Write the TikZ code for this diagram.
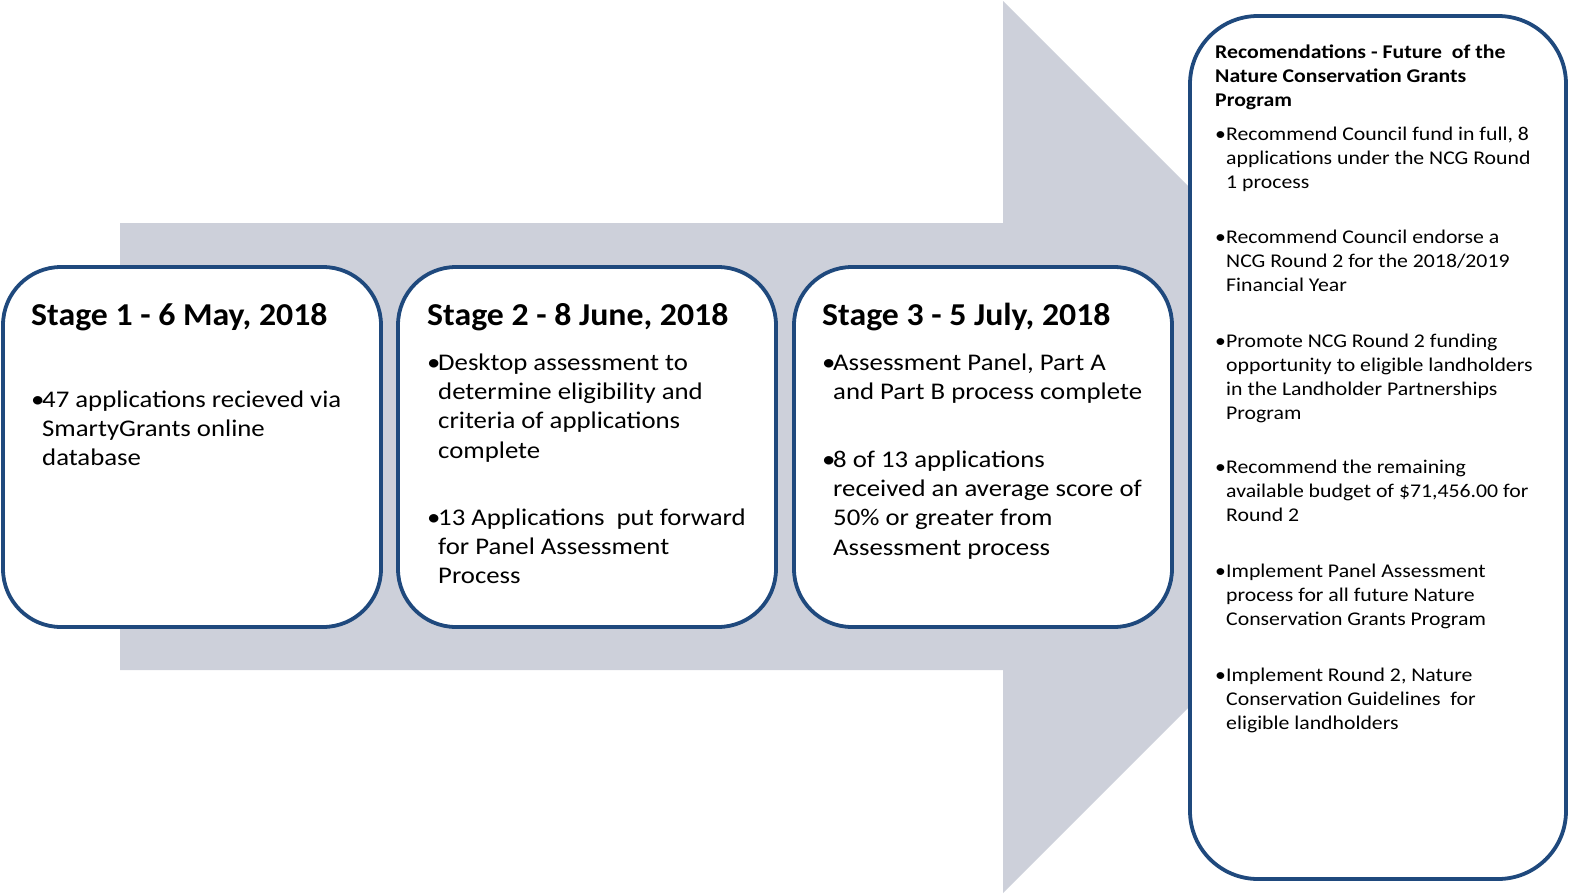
\documentclass[tikz,border=0pt]{standalone}
\usepackage{fontspec}
\setmainfont{Carlito}
\newfontfamily\bodyfont[FakeStretch=1.12]{Carlito}
\newfontfamily\ttlfont[FakeStretch=1.06]{Carlito}
\definecolor{arrowgray}{RGB}{205,208,218}
\definecolor{boxblue}{RGB}{31,73,125}
\newcommand\bl{\makebox[11bp][l]{•}}
\newcommand\ind{\hspace*{11bp}}
\newcommand\lines[1]{\begin{tabular}[t]{@{}l@{}}#1\end{tabular}}
\begin{document}
\begin{tikzpicture}[x=1bp,y=-1bp,
  stagebox/.style={draw=boxblue,line width=3.8bp,fill=white,rounded corners=58bp},
  ttl/.style={inner sep=0pt,anchor=base west,font=\ttlfont\fontsize{32}{39}\selectfont\bfseries},
  body/.style={inner sep=0pt,anchor=base west,font=\bodyfont\fontsize{24}{29.5}\selectfont},
  rttl/.style={inner sep=0pt,anchor=base west,font=\bodyfont\fontsize{19.5}{24.3}\selectfont\bfseries},
  rbody/.style={inner sep=0pt,anchor=base west,font=\bodyfont\fontsize{19.5}{24.3}\selectfont}]
\useasboundingbox (0,0) rectangle (1569,895);
% big arrow
\fill[arrowgray] (120,223) -- (1003,223) -- (1003,1) -- (1449,447) -- (1003,893) -- (1003,670) -- (120,670) -- cycle;
% stage boxes
\draw[stagebox] (3,267) rectangle (381,627);
\draw[stagebox] (398,267) rectangle (776,627);
\draw[stagebox] (794,267) rectangle (1172,627);
\draw[stagebox,rounded corners=68bp] (1190,16) rectangle (1566,879);
% stage 1
\node[ttl] (t1) at (31,325) {Stage 1 - 6 May, 2018};
\node[body] (b1) at (31,407) {\lines{\bl 47 applications recieved via\\\ind SmartyGrants online\\\ind database}};
% stage 2
\node[ttl] (t2) at (427,325) {Stage 2 - 8 June, 2018};
\node[body] (b2a) at (427,370) {\lines{\bl Desktop assessment to\\\ind determine eligibility and\\\ind criteria of applications\\\ind complete}};
\node[body] (b2b) at (427,525) {\lines{\bl 13 Applications\ \ put forward\\\ind for Panel Assessment\\\ind Process}};
% stage 3
\node[ttl] (t3) at (822,325) {Stage 3 - 5 July, 2018};
\node[body] (b3a) at (822,370) {\lines{\bl Assessment Panel, Part A\\\ind and Part B process complete}};
\node[body] (b3b) at (822,467) {\lines{\bl 8 of 13 applications\\\ind received an average score of\\\ind 50\% or greater from\\\ind Assessment process}};
% recommendations
\node[rttl] (rt) at (1215,58) {\lines{Recomendations - Future\ \ of the\\Nature Conservation Grants\\Program}};
\node[rbody] (r1) at (1215,140) {\lines{\bl Recommend Council fund in full, 8\\\ind applications under the NCG Round\\\ind 1 process}};
\node[rbody] (r2) at (1215,243) {\lines{\bl Recommend Council endorse a\\\ind NCG Round 2 for the 2018/2019\\\ind Financial Year}};
\node[rbody] (r3) at (1215,347) {\lines{\bl Promote NCG Round 2 funding\\\ind opportunity to eligible landholders\\\ind in the Landholder Partnerships\\\ind Program}};
\node[rbody] (r4) at (1215,473) {\lines{\bl Recommend the remaining\\\ind available budget of \$71,456.00 for\\\ind Round 2}};
\node[rbody] (r5) at (1215,577) {\lines{\bl Implement Panel Assessment\\\ind process for all future Nature\\\ind Conservation Grants Program}};
\node[rbody] (r6) at (1215,681) {\lines{\bl Implement Round 2, Nature\\\ind Conservation Guidelines\ \ for\\\ind eligible landholders}};
\end{tikzpicture}
\end{document}
